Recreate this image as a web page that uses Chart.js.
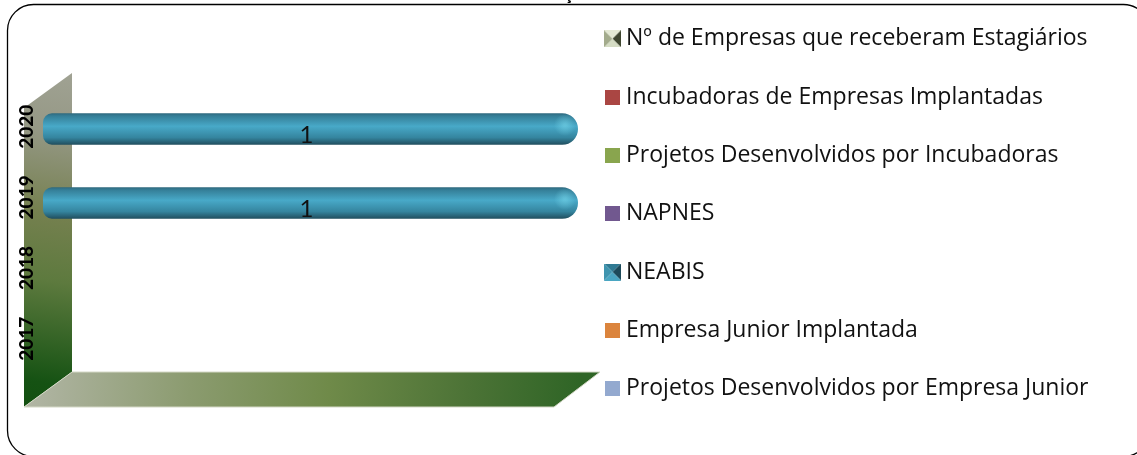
<!DOCTYPE html>
<html>
<head>
<meta charset="utf-8">
<title>NEABIS</title>
<script src="https://cdn.jsdelivr.net/npm/chart.js@4"></script>
<style>
    html, body { margin: 0; padding: 0; background: #fff; overflow: hidden; }
    canvas { display: block; }
</style>
</head>
<body>
<canvas id="combinedChart" width="1137" height="455"></canvas>
<script>
const categories = ['2017', '2018', '2019', '2020'];

const seriesNames = [
    'Nº de Empresas que receberam Estagiários',
    'Incubadoras de Empresas Implantadas',
    'Projetos Desenvolvidos por Incubadoras',
    'NAPNES',
    'NEABIS',
    'Empresa Junior Implantada',
    'Projetos Desenvolvidos por Empresa Junior'
];

const estagiarios = [0, 0, 0, 0];
const incubadoras = [0, 0, 0, 0];
const projetosIncubadoras = [0, 0, 0, 0];
const napnes = [0, 0, 0, 0];
const neabis = [0, 0, 1, 1];
const empresaJunior = [0, 0, 0, 0];
const projetosEmpresaJunior = [0, 0, 0, 0];

const seriesValues = [estagiarios, incubadoras, projetosIncubadoras, napnes, neabis, empresaJunior, projetosEmpresaJunior];

const seriesColors = ['#8f9778', '#aa4643', '#89a54e', '#71588f', '#4198af', '#db843d', '#93a9cf'];

// top, right, bottom, left triangles of the two bevelled legend keys
const bevels = {
    0: ['#e3e8d3', '#3f4630', '#d5dcc4', '#a3ab8c'],
    4: ['#2f7a93', '#1d4a5a', '#4aa6c2', '#3f94ae']
};

function makeSwatch(index) {
    const bevel = bevels[index];
    const size = bevel ? 17 : 15;
    const c = document.createElement('canvas');
    c.width = size;
    c.height = size;
    const g = c.getContext('2d');
    if (!bevel) {
        g.fillStyle = seriesColors[index];
        g.fillRect(0, 0, size, size);
        return c;
    }
    const m = size / 2;
    const corners = [[0, 0], [size, 0], [size, size], [0, size]];
    bevel.forEach((color, i) => {
        const a = corners[i];
        const b = corners[(i + 1) % 4];
        g.fillStyle = color;
        g.beginPath();
        g.moveTo(a[0], a[1]);
        g.lineTo(b[0], b[1]);
        g.lineTo(m, m);
        g.closePath();
        g.fill();
    });
    return c;
}

const cylinderFill = function (context) {
    const chart = context.chart;
    const y = chart.scales.y.getPixelForValue(context.dataIndex);
    const grad = chart.ctx.createLinearGradient(0, y - 17, 0, y + 17);
    grad.addColorStop(0, '#2c5f72');
    grad.addColorStop(0.12, '#357f98');
    grad.addColorStop(0.42, '#48a9c8');
    grad.addColorStop(0.75, '#35859f');
    grad.addColorStop(1, '#1d4452');
    return grad;
};

const walls3d = {
    id: 'walls3d',
    beforeDraw(chart) {
        const ctx = chart.ctx;
        const { left, right, top, bottom } = chart.chartArea;

        // clipped title and the outer frame
        ctx.save();
        ctx.fillStyle = '#000';
        ctx.font = 'bold 18px Lato';
        ctx.textAlign = 'center';
        ctx.fillText('Ç', 568, 0);
        ctx.beginPath();
        ctx.roundRect(7.5, 4.5, 1142, 452, 26);
        ctx.lineWidth = 1.3;
        ctx.strokeStyle = '#000';
        ctx.stroke();

        const backX = left + 29;
        const frontX = left - 19;
        const backTop = top - 19;
        const backBottom = bottom - 16;
        const frontBottom = bottom + 19;

        // left wall
        const wall = ctx.createLinearGradient(backX, backTop, frontX, frontBottom);
        wall.addColorStop(0, '#a0a293');
        wall.addColorStop(0.18, '#959885');
        wall.addColorStop(0.42, '#75804f');
        wall.addColorStop(0.62, '#5d7a3e');
        wall.addColorStop(0.92, '#155213');
        wall.addColorStop(1, '#135010');
        ctx.fillStyle = wall;
        ctx.beginPath();
        ctx.moveTo(backX, backTop);
        ctx.lineTo(frontX + 4, backTop + 32);
        ctx.lineTo(frontX, backTop + 35);
        ctx.lineTo(frontX, frontBottom);
        ctx.lineTo(backX, backBottom);
        ctx.closePath();
        ctx.fill();

        // floor
        const floor = ctx.createLinearGradient(frontX, backBottom, right, frontBottom);
        floor.addColorStop(0, '#b2b6a6');
        floor.addColorStop(0.3, '#8b9b6f');
        floor.addColorStop(0.55, '#6f8a49');
        floor.addColorStop(0.8, '#4c7336');
        floor.addColorStop(1, '#2f6526');
        ctx.fillStyle = floor;
        ctx.strokeStyle = '#d4d8c6';
        ctx.lineWidth = 1;
        ctx.beginPath();
        ctx.moveTo(frontX, frontBottom);
        ctx.lineTo(backX, backBottom);
        ctx.lineTo(right + 22, backBottom);
        ctx.lineTo(right - 24, frontBottom);
        ctx.closePath();
        ctx.fill();
        ctx.stroke();
        ctx.restore();
    }
};

const barDressing = {
    id: 'barDressing',
    afterDatasetsDraw(chart) {
        const ctx = chart.ctx;
        const index = seriesNames.indexOf('NEABIS');
        chart.getDatasetMeta(index).data.forEach((bar, i) => {
            const value = neabis[i];
            if (!value) {
                return;
            }
            // glossy spot on the rounded end
            const glow = ctx.createRadialGradient(bar.x - 13, bar.y - 4, 1, bar.x - 13, bar.y - 4, 11);
            glow.addColorStop(0, 'rgba(120, 215, 235, 0.55)');
            glow.addColorStop(1, 'rgba(120, 215, 235, 0)');
            ctx.save();
            ctx.fillStyle = glow;
            ctx.fillRect(bar.x - 26, bar.y - 16, 24, 26);
            ctx.fillStyle = '#111';
            ctx.font = '24px Lato';
            ctx.textAlign = 'center';
            ctx.textBaseline = 'middle';
            ctx.fillText(String(value), (bar.base + bar.x) / 2 - 4, bar.y + 6);
            ctx.restore();
        });
    },
    afterLayout(chart) {
        // legend sits in the right column, above the plot's centre
        const legend = chart.legend;
        const pad = legend.options.labels.padding;
        legend.left = 610.5 - pad;
        legend.top = legend.top - 8;
    }
};

const hiddenAxis = {
    display: true,
    min: 0,
    max: 1,
    grid: { display: false },
    border: { display: false },
    ticks: { display: false }
};

new Chart(document.getElementById('combinedChart').getContext('2d'), {
    type: 'bar',
    data: {
        labels: categories,
        datasets: seriesNames.map((name, i) => ({
            label: name,
            data: seriesValues[i],
            xAxisID: 'x',
            yAxisID: 'y',
            backgroundColor: i === 4 ? cylinderFill : seriesColors[i],
            borderWidth: 0,
            borderSkipped: false,
            borderRadius: { topLeft: 9, bottomLeft: 9, topRight: 16, bottomRight: 16 },
            barPercentage: 0.446,
            categoryPercentage: 1
        }))
    },
    options: {
        indexAxis: 'y',
        responsive: false,
        animation: false,
        layout: { padding: 0 },
        scales: {
            x: {
                ...hiddenAxis,
                stacked: true,
                position: 'bottom',
                afterFit(scale) { scale.height = 67; }
            },
            xTop: {
                ...hiddenAxis,
                axis: 'x',
                position: 'top',
                afterFit(scale) { scale.height = 92; }
            },
            yRight: {
                ...hiddenAxis,
                axis: 'y',
                position: 'right',
                afterFit(scale) { scale.width = Math.max(0, 559 - scale.chart.legend.width); }
            },
            y: {
                stacked: true,
                reverse: true,
                grid: { display: false },
                border: { display: false },
                ticks: {
                    autoSkip: false,
                    minRotation: 90,
                    maxRotation: 90,
                    crossAlign: 'center',
                    padding: -14,
                    color: '#000',
                    font: { family: 'Lato', size: 19, weight: '900' }
                },
                afterFit(scale) {
                    scale.width = 43;
                    // the labels run up the slanted wall, slightly tighter than the bars
                    scale.getPixelForTick = i => scale.getPixelForValue(scale.ticks[i].value) * 0.955 + 3.5;
                }
            }
        },
        plugins: {
            tooltip: { enabled: false },
            legend: {
                position: 'right',
                align: 'start',
                labels: {
                    usePointStyle: true,
                    pointStyleWidth: 4,
                    padding: 35.3,
                    color: '#111',
                    font: { family: 'Open Sans', size: 23 },
                    generateLabels() {
                        return seriesNames.map((name, i) => ({
                            text: name,
                            datasetIndex: i,
                            hidden: false,
                            lineWidth: 0,
                            fontColor: '#111',
                            pointStyle: makeSwatch(i)
                        }));
                    }
                }
            }
        }
    },
    plugins: [walls3d, barDressing]
});
</script>
</body>
</html>
